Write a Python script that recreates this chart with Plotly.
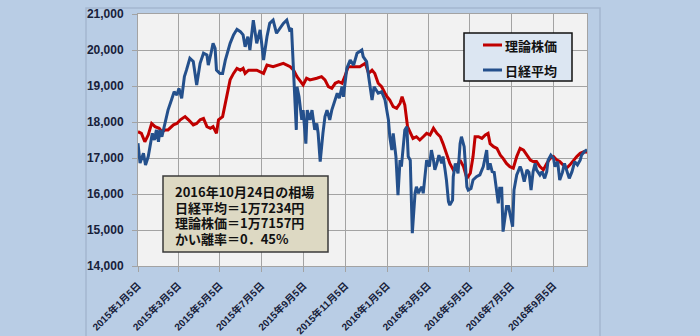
import plotly.graph_objects as go

# ---- data ----
nikkei_dates = [
    "2015-01-05","2015-01-08","2015-01-13","2015-01-16","2015-01-20","2015-01-23","2015-01-26","2015-01-29",
    "2015-02-01","2015-02-04","2015-02-06","2015-02-09","2015-02-14","2015-02-18","2015-02-23","2015-02-27",
    "2015-03-03","2015-03-06","2015-03-10","2015-03-14","2015-03-17","2015-03-22","2015-03-27","2015-03-30",
    "2015-04-01","2015-04-06","2015-04-11","2015-04-16","2015-04-18","2015-04-22","2015-04-25","2015-04-28",
    "2015-04-30","2015-05-05","2015-05-09","2015-05-13","2015-05-20","2015-05-25","2015-05-30","2015-06-04",
    "2015-06-08","2015-06-11","2015-06-15","2015-06-18","2015-06-23","2015-06-28","2015-07-03","2015-07-08",
    "2015-07-13","2015-07-17","2015-07-22","2015-07-27","2015-08-01","2015-08-06","2015-08-11","2015-08-15",
    "2015-08-18","2015-08-21","2015-08-25","2015-08-26","2015-08-29","2015-09-02","2015-09-04","2015-09-08",
    "2015-09-10","2015-09-14","2015-09-17","2015-09-21","2015-09-24","2015-09-26","2015-09-29","2015-10-03",
    "2015-10-06","2015-10-09","2015-10-13","2015-10-16","2015-10-21","2015-10-24","2015-10-27","2015-10-31",
    "2015-11-02","2015-11-07","2015-11-12","2015-11-17","2015-11-22","2015-11-26","2015-11-29","2015-12-01",
    "2015-12-06","2015-12-09","2015-12-14","2015-12-17","2015-12-23","2015-12-28","2016-01-02","2016-01-07",
    "2016-01-09","2016-01-12","2016-01-14","2016-01-18","2016-01-21","2016-01-24","2016-01-26","2016-01-31",
    "2016-02-03","2016-02-05","2016-02-08","2016-02-11","2016-02-15","2016-02-17","2016-02-20","2016-02-22",
    "2016-02-25","2016-02-27","2016-03-01","2016-03-03","2016-03-07","2016-03-10","2016-03-13","2016-03-15",
    "2016-03-18","2016-03-21","2016-03-25","2016-03-27","2016-03-30","2016-04-01","2016-04-04","2016-04-06",
    "2016-04-10","2016-04-11","2016-04-14","2016-04-18","2016-04-21","2016-04-23","2016-04-27","2016-05-01",
    "2016-05-03","2016-05-07","2016-05-10","2016-05-15","2016-05-20","2016-05-25","2016-05-30","2016-06-01",
    "2016-06-04","2016-06-07","2016-06-10","2016-06-14","2016-06-16","2016-06-18","2016-06-21","2016-06-23",
    "2016-06-26","2016-06-28","2016-07-01","2016-07-03","2016-07-07","2016-07-09","2016-07-13","2016-07-15",
    "2016-07-18","2016-07-20","2016-07-24","2016-07-28","2016-07-31","2016-08-03","2016-08-06","2016-08-09",
    "2016-08-11","2016-08-16","2016-08-19","2016-08-23","2016-08-26","2016-08-28","2016-09-01","2016-09-05",
    "2016-09-07","2016-09-11","2016-09-14","2016-09-18","2016-09-21","2016-09-24","2016-09-28","2016-10-02",
    "2016-10-06","2016-10-10","2016-10-14","2016-10-16","2016-10-20","2016-10-24",
]
nikkei_values = [
    17410,16860,17130,16806,17040,17400,17685,17500,
    17780,17450,17780,17590,17960,18330,18610,18840,
    18750,18935,18660,19260,19440,19770,19680,19350,
    19030,19630,19910,19860,19580,19910,20185,20045,
    19440,19350,19350,19720,20185,20420,20575,20510,
    20420,20090,20370,20000,20830,20185,20560,19720,
    20370,20740,20830,20465,20600,20740,20830,20560,
    20600,19260,17780,18980,18700,18060,18330,17400,
    18330,18060,18330,17780,17960,17685,16900,17685,
    18150,18330,18060,18330,18610,18800,18660,18980,
    18700,19490,19720,19580,19910,19950,20000,19815,
    19680,19260,18610,18980,18800,18840,18610,18060,
    17590,17220,17685,17040,15970,16940,16760,17780,
    17870,17040,16940,14910,16020,16200,16020,16110,
    16200,16020,16670,16940,16760,17220,16940,16670,
    16850,17080,16850,17040,16670,16390,15790,15690,
    15830,16480,16850,16575,17400,17590,17315,16200,
    16110,16150,16390,16480,16530,16760,17220,16670,
    16850,16620,16600,16020,15740,16160,16160,14955,
    15370,15650,15650,15465,15090,16110,16530,16620,
    16760,16670,16340,16670,16600,16110,16620,16850,
    16670,16530,16620,16435,16620,16940,17080,16990,
    16760,16900,16390,16600,16850,16670,16435,16620,
    16900,16810,16940,17080,17175,17234,
]

theory_dates = [
    "2015-01-05","2015-01-10","2015-01-15","2015-01-20","2015-01-25","2015-01-30","2015-02-05","2015-02-09",
    "2015-02-14","2015-02-18","2015-02-26","2015-03-03","2015-03-08","2015-03-15","2015-03-20","2015-03-27",
    "2015-04-01","2015-04-06","2015-04-11","2015-04-16","2015-04-21","2015-04-25","2015-04-30","2015-05-03",
    "2015-05-09","2015-05-13","2015-05-17","2015-05-20","2015-05-25","2015-05-30","2015-06-04","2015-06-08",
    "2015-06-11","2015-06-16","2015-06-23","2015-06-28","2015-07-08","2015-07-13","2015-07-22","2015-08-06",
    "2015-08-16","2015-08-21","2015-08-26","2015-08-30","2015-09-04","2015-09-09","2015-09-14","2015-09-24",
    "2015-10-01","2015-10-06","2015-10-11","2015-10-16","2015-10-21","2015-10-26","2015-10-31","2015-11-04",
    "2015-11-09","2015-11-17","2015-11-26","2015-12-04","2015-12-09","2015-12-14","2015-12-18","2015-12-23",
    "2015-12-28","2016-01-02","2016-01-05","2016-01-09","2016-01-14","2016-01-19","2016-01-24","2016-01-27",
    "2016-01-31","2016-02-04","2016-02-08","2016-02-12","2016-02-17","2016-02-22","2016-02-27","2016-03-03",
    "2016-03-08","2016-03-13","2016-03-18","2016-03-23","2016-03-27","2016-04-01","2016-04-06","2016-04-11",
    "2016-04-16","2016-04-21","2016-04-26","2016-05-01","2016-05-06","2016-05-10","2016-05-13","2016-05-18",
    "2016-05-23","2016-05-28","2016-06-01","2016-06-04","2016-06-09","2016-06-14","2016-06-19","2016-06-23",
    "2016-06-28","2016-07-03","2016-07-08","2016-07-13","2016-07-18","2016-07-23","2016-07-28","2016-08-02",
    "2016-08-06","2016-08-11","2016-08-16","2016-08-21","2016-08-26","2016-08-31","2016-09-05","2016-09-10",
    "2016-09-14","2016-09-19","2016-09-24","2016-09-29","2016-10-04","2016-10-09","2016-10-14","2016-10-19",
    "2016-10-24",
]
theory_values = [
    17730,17685,17450,17640,17960,17870,17825,17730,
    17780,17780,17920,17960,18060,18150,18060,17920,
    17960,18060,18100,17870,17825,17870,17685,18060,
    18150,18520,18890,19170,19350,19490,19440,19490,
    19350,19440,19440,19440,19350,19580,19535,19630,
    19535,19440,19260,19170,19030,19215,19170,19215,
    19260,19170,18980,18935,19075,19120,19075,19260,
    19535,19535,19535,19630,19350,19440,19350,19075,
    18980,18800,18700,18610,18425,18380,18520,18700,
    18470,17870,17685,17545,17590,17500,17590,17685,
    17640,17825,17685,17590,17400,17130,16850,16670,
    16760,16940,16760,16435,16575,17040,17590,17590,
    17545,17640,17685,17400,17315,17270,17080,16990,
    16850,16760,16715,17040,17270,17220,17080,16940,
    16900,16900,16760,16670,16850,16990,17040,16940,
    16900,16810,16715,16810,16940,17040,17130,17175,
    17157,
]

series_names = ["理論株価", "日経平均"]
tick_dates = ["2015-01-05","2015-03-05","2015-05-05","2015-07-05","2015-09-05","2015-11-05",
              "2016-01-05","2016-03-05","2016-05-05","2016-07-05","2016-09-05"]
tick_labels = ["2015年1月5日","2015年3月5日","2015年5月5日","2015年7月5日","2015年9月5日","2015年11月5日",
               "2016年1月5日","2016年3月5日","2016年5月5日","2016年7月5日","2016年9月5日"]
y_ticks = [14000, 15000, 16000, 17000, 18000, 19000, 20000, 21000]
info_lines = ["2016年10月24日の相場", "日経平均＝1万7234円", "理論株価＝1万7157円", "かい離率＝0．45%"]

# ---- styling ----
W, H = 700, 336
L, R, T, B = 138, 587, 14, 266
RED = "#c00000"
BLUE = "#24508c"
TXT = "#17213a"
GRID = "#a3a3a3"
FONT = "Liberation Sans, Arial, Noto Sans CJK JP, sans-serif"
JFONT = "Noto Sans CJK JP, sans-serif"


def px(x):
    return (x - L) / (R - L)


def py(y):
    return (B - y) / (B - T)


fig = go.Figure()
fig.add_trace(go.Scatter(x=theory_dates, y=theory_values, mode="lines", name=series_names[0],
                         line=dict(color=RED, width=3)))
fig.add_trace(go.Scatter(x=nikkei_dates, y=nikkei_values, mode="lines", name=series_names[1],
                         line=dict(color=BLUE, width=3)))

shapes = [
    # outer chart panel border
    dict(type="rect", xref="paper", yref="paper", x0=px(86), x1=px(600), y0=py(345), y1=py(8),
         line=dict(color="#a4b6cf", width=1.5), fillcolor="rgba(0,0,0,0)", layer="below"),
    # legend box
    dict(type="rect", xref="paper", yref="paper", x0=px(464), x1=px(572), y0=py(81), y1=py(33),
         line=dict(color="#111111", width=1.5), fillcolor="#dce6f2", layer="above"),
    dict(type="line", xref="paper", yref="paper", x0=px(483), x1=px(502), y0=py(45), y1=py(45),
         line=dict(color=RED, width=3), layer="above"),
    dict(type="line", xref="paper", yref="paper", x0=px(483), x1=px(502), y0=py(70), y1=py(70),
         line=dict(color=BLUE, width=3), layer="above"),
    # info box
    dict(type="rect", xref="paper", yref="paper", x0=px(163), x1=px(328), y0=py(252), y1=py(176),
         line=dict(color="#3a3a3a", width=1.5), fillcolor="#ddd9c3", layer="above"),
]

annotations = [
    dict(xref="paper", yref="paper", x=px(503), y=py(45), xanchor="left", yanchor="middle",
         text=series_names[0], showarrow=False, font=dict(family=JFONT, size=13, color="#111111", weight="bold")),
    dict(xref="paper", yref="paper", x=px(503), y=py(70), xanchor="left", yanchor="middle",
         text=series_names[1], showarrow=False, font=dict(family=JFONT, size=13, color="#111111", weight="bold")),
]
info_y = [191, 207, 222.5, 238]
for line_text, yy in zip(info_lines, info_y):
    annotations.append(
        dict(xref="paper", yref="paper", x=px(174), y=py(yy), xanchor="left", yanchor="middle", align="left",
             text=line_text, showarrow=False, borderpad=0,
             font=dict(family=JFONT, size=13, color="#111111", weight="bold")))

fig.update_layout(
    width=W, height=H,
    margin=dict(l=L, r=W - R, t=T, b=H - B, autoexpand=False),
    paper_bgcolor="#b9cde5",
    plot_bgcolor="#f2f2f2",
    showlegend=False,
    shapes=shapes,
    annotations=annotations,
)
fig.update_xaxes(
    type="date", range=["2015-01-05", "2016-10-24"], automargin=False,
    tickvals=tick_dates, ticktext=tick_labels, tickangle=-45,
    tickfont=dict(family=FONT, size=10, color=TXT, weight="bold"),
    showgrid=True, gridcolor=GRID, gridwidth=1,
    ticks="outside", ticklen=5, tickcolor=GRID, ticklabelstandoff=4,
    showline=True, linecolor=GRID, linewidth=1, mirror=True,
    zeroline=False,
)
fig.update_yaxes(
    range=[14000, 21000], tickvals=y_ticks, tickformat=",d", automargin=False,
    tickfont=dict(family=FONT, size=12, color=TXT, weight="bold"),
    showgrid=True, gridcolor=GRID, gridwidth=1,
    ticks="outside", ticklen=5, tickcolor=GRID, ticklabelstandoff=6,
    showline=True, linecolor=GRID, linewidth=1, mirror=True,
    zeroline=False,
)

fig.write_html("out.html")
